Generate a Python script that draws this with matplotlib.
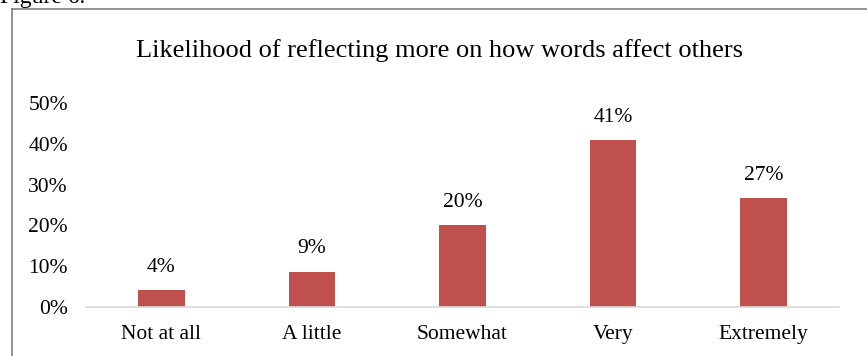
import matplotlib.pyplot as plt
from matplotlib.lines import Line2D

categories = ["Not at all", "A little", "Somewhat", "Very", "Extremely"]
values = [0.042, 0.087, 0.20, 0.41, 0.266]
labels = ["4%", "9%", "20%", "41%", "27%"]
yticks = [0, 0.1, 0.2, 0.3, 0.4, 0.5]
ytick_labels = ["0%", "10%", "20%", "30%", "40%", "50%"]

plt.rcParams['font.family'] = ['Liberation Serif', 'DejaVu Serif']

W, H = 867, 356
fig = plt.figure(figsize=(W/100, H/100), dpi=100)
ax = fig.add_axes([86/W, 1-307/H, (839-86)/W, (307-103)/H])

x = range(len(categories))
bars = ax.bar(x, values, width=0.31, color="#C0504D")
for xi, v, lab in zip(x, values, labels):
    ax.text(xi, v + 0.032, lab, ha="center", va="bottom", fontsize=15.5)

ax.set_xlim(-0.5, len(categories) - 0.5)
ax.set_ylim(0, 0.5)
ax.set_yticks(yticks)
ax.set_yticklabels(ytick_labels, fontsize=15.5)
ax.set_xticks(list(x))
ax.set_xticklabels(categories, fontsize=15.5)
ax.tick_params(axis="both", length=0)
ax.tick_params(axis="y", pad=13)
ax.tick_params(axis="x", pad=13)
for s in ["top", "right", "left"]:
    ax.spines[s].set_visible(False)
ax.spines["bottom"].set_color("#D9D9D9")
ax.spines["bottom"].set_linewidth(1.2)

fig.text(440 / W, 1 - 51/H, "Likelihood of reflecting more on how words affect others",
         ha="center", va="center", fontsize=19)

# outer border
fig.add_artist(Line2D([11.5/W, 11.5/W], [0, 1 - 8.5/H], color="#7F7F7F", lw=1.2))
fig.add_artist(Line2D([11.5/W, 1], [1 - 8.5/H, 1 - 8.5/H], color="#7F7F7F", lw=1.2))

# cut-off caption (partially visible at the top edge, as in the reference)
fig.text(0.0, 1 - 3/H, "Figure 6.", ha="left", va="baseline", fontsize=17)

fig.savefig("out.png", dpi=100)
